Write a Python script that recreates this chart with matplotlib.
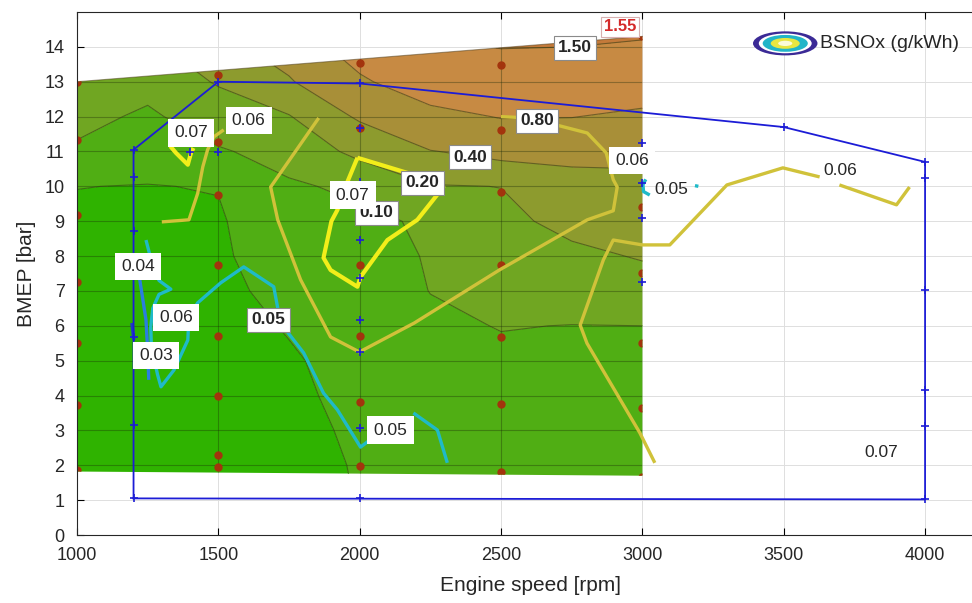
import numpy as np
import matplotlib
matplotlib.use("Agg")
import matplotlib.pyplot as plt
from matplotlib.patches import Polygon, Ellipse

plt.rcParams["font.family"] = ["Liberation Sans", "DejaVu Sans"]

# measured map (BSFC-like fill), columns = engine speed, rows = BMEP 1..15 bar
speed_grid = [1000, 1250, 1500, 1750, 2000, 2250, 2500, 2750, 3000]
bmep_grid = [1, 2, 3, 4, 5, 6, 7, 8, 9, 10, 11, 12, 13, 14, 15]
z_1000 = [0.035, 0.035, 0.036, 0.037, 0.038, 0.039, 0.040, 0.042, 0.045, 0.0505, 0.089, 0.122, 0.160, 0.190, 0.200]
z_1250 = [0.034, 0.034, 0.035, 0.036, 0.037, 0.038, 0.040, 0.042, 0.045, 0.049, 0.065, 0.088, 0.125, 0.170, 0.200]
z_1500 = [0.036, 0.036, 0.037, 0.038, 0.039, 0.040, 0.042, 0.045, 0.046, 0.0515, 0.093, 0.140, 0.210, 0.300, 0.380]
z_1750 = [0.040, 0.041, 0.043, 0.045, 0.047, 0.052, 0.060, 0.068, 0.078, 0.092, 0.125, 0.190, 0.370, 0.550, 0.700]
z_2000 = [0.051, 0.052, 0.054, 0.057, 0.060, 0.064, 0.070, 0.078, 0.088, 0.112, 0.230, 0.430, 0.740, 1.000, 1.200]
z_2250 = [0.062, 0.064, 0.068, 0.073, 0.080, 0.090, 0.101, 0.104, 0.108, 0.190, 0.390, 0.680, 1.050, 1.400, 1.550]
z_2500 = [0.070, 0.072, 0.076, 0.082, 0.090, 0.102, 0.125, 0.150, 0.165, 0.202, 0.470, 0.820, 1.150, 1.520, 1.600]
z_2750 = [0.072, 0.074, 0.078, 0.084, 0.091, 0.099, 0.130, 0.170, 0.240, 0.300, 0.480, 0.810, 1.100, 1.500, 1.600]
z_3000 = [0.072, 0.074, 0.078, 0.083, 0.090, 0.100, 0.140, 0.210, 0.270, 0.340, 0.460, 0.720, 1.050, 1.450, 1.700]

fill_levels = [0, 0.05, 0.10, 0.20, 0.40, 0.80, 1.50, 2.0]
fill_colors = ["#2fb300", "#50ae14", "#70a622", "#8d9b2e", "#a88f38", "#c78a43", "#c47a3a"]

# outline of the measured area
map_edge_x = [1000, 3000, 3000, 1000]
map_edge_y = [1.82, 1.70, 14.30, 13.00]

# full load curve
fl_speed = [1200, 1200, 1500, 2000, 3500, 4000, 4000, 1200]
fl_bmep = [1.05, 11.05, 13.0, 12.95, 11.7, 10.7, 1.02, 1.05]

# operating points (+)
op_speed = [1200] * 7 + [1400, 1500, 1500] + [2000] * 10 + [3000] * 4 + [3500] + [4000] * 6
op_bmep = [11.05, 10.27, 8.72, 7.69, 5.68, 3.16, 1.05,
           10.99, 13.0, 10.99,
           12.95, 11.68, 10.13, 9.52, 8.46, 7.37, 6.17, 5.25, 3.07, 1.05,
           11.25, 10.1, 9.09, 7.26,
           11.7,
           10.7, 10.24, 7.03, 4.16, 3.13, 1.02]

# measurement points (red dots)
meas_speed = [1000] * 7 + [1500] * 8 + [2000] * 6 + [2500] * 7 + [3000] * 6
meas_bmep = [13.0, 11.33, 9.18, 7.26, 5.5, 3.73, 1.86,
             13.2, 11.27, 9.75, 7.75, 5.71, 3.99, 2.3, 1.95,
             13.54, 11.68, 7.75, 5.71, 3.82, 1.98,
             13.48, 11.62, 9.84, 7.75, 5.68, 3.76, 1.81,
             14.3, 9.41, 7.52, 5.51, 3.64, 1.66]

# BSNOx iso-lines (g/kWh)
nox07_hook_x = [1330, 1350, 1392, 1403, 1412]
nox07_hook_y = [11.15, 10.96, 10.62, 10.95, 11.1]
nox07_loop_x = [1992, 2285, 2296, 2204, 2098, 2003, 1992, 1897, 1872, 1900, 1921, 1950, 1992]
nox07_loop_y = [10.82, 10.1, 9.98, 9.04, 8.46, 7.4, 7.12, 7.6, 7.95, 9.0, 9.32, 10.0, 10.82]
nox06_left_x = [1300, 1396, 1427, 1445, 1462, 1484, 1519]
nox06_left_y = [8.98, 9.04, 9.8, 10.56, 11.05, 11.42, 11.62]
nox06_mid_x = [1855, 1685, 1710, 1791, 1897, 1999, 2193, 2494, 2805, 2897, 2911, 2897, 2872, 2805, 2600, 2500]
nox06_mid_y = [11.96, 9.98, 9.04, 7.32, 5.68, 5.25, 6.08, 7.6, 9.04, 9.3, 9.98, 10.19, 10.96, 11.53, 11.96, 12.0]
nox06_right_x = [3945, 3899, 3697]
nox06_right_y = [9.98, 9.47, 10.04]
nox06_far_x = [3627, 3497, 3299, 3097, 3000, 2897, 2862, 2780, 2804, 2991, 3044]
nox06_far_y = [10.27, 10.53, 10.04, 8.32, 8.32, 8.46, 7.89, 6.02, 5.5, 2.93, 2.07]
nox05_x = [1244, 1262, 1290, 1332, 1290, 1268, 1261, 1263, 1285, 1297, 1343, 1392, 1396, 1427,
           1508, 1590, 1696, 1720, 1802, 1872, 1921, 2003, 2040]
nox05_y = [8.46, 7.9, 7.3, 7.05, 6.9, 6.5, 5.97, 5.4, 4.6, 4.25, 4.73, 5.59, 6.25, 6.66,
           7.23, 7.69, 7.12, 6.08, 5.22, 4.07, 3.59, 2.52, 2.75]
nox05_tail_x = [2190, 2275, 2310]
nox05_tail_y = [3.5, 3.01, 2.07]
nox05_hook_x = [3012, 3002, 3004, 3026]
nox05_hook_y = [10.2, 10.05, 9.85, 9.75]
nox05_dot_x = [3186, 3198]
nox05_dot_y = [10.02, 10.0]
nox04_x = [1222, 1232, 1244, 1250, 1254]
nox04_y = [7.32, 6.8, 6.17, 5.3, 4.45]
nox03_x = [1194, 1201]
nox03_y = [6.08, 5.6]

nox_colors = {0.03: "#1f3fc4", 0.04: "#2a7ee0", 0.05: "#1fbac8", 0.06: "#d0c23a", 0.07: "#f2ee1a"}

# contour labels
fill_label_text = ["0.05", "0.10", "0.20", "0.40", "0.80", "1.50"]
fill_label_x = [1678, 2060, 2222, 2391, 2628, 2762]
fill_label_y = [6.17, 9.24, 10.1, 10.84, 11.88, 13.97]
nox_label_text = ["0.07", "0.06", "0.07", "0.06", "0.04", "0.06", "0.03", "0.05"]
nox_label_x = [1403, 1607, 1975, 2963, 1215, 1350, 1279, 2109]
nox_label_y = [11.53, 11.88, 9.75, 10.73, 7.69, 6.23, 5.16, 3.01]
plain_label_text = ["0.05", "0.06", "0.07"]
plain_label_x = [3104, 3701, 3846]
plain_label_y = [9.9, 10.44, 2.38]

fig = plt.figure(figsize=(9.72, 6.03), dpi=100)
ax = fig.add_axes([77 / 972, 68 / 603, 908 / 972, 523 / 603])
ax.set_xlim(1000, 4212)
ax.set_ylim(0, 15)
ax.set_axisbelow(True)
ax.grid(True, color="#dedede", lw=0.7)

clip = Polygon(np.column_stack([map_edge_x, map_edge_y]), closed=True,
               fc="none", ec="none", transform=ax.transData)
ax.add_patch(clip)

Z = np.array([z_1000, z_1250, z_1500, z_1750, z_2000, z_2250, z_2500, z_2750, z_3000]).T
X, Y = np.meshgrid(speed_grid, bmep_grid)
cf = ax.contourf(X, Y, Z, levels=fill_levels, colors=fill_colors, zorder=1)
cf.set_clip_path(clip)
cl = ax.contour(X, Y, Z, levels=fill_levels[1:-1], colors="#2b3a12",
                linewidths=0.8, alpha=0.55, zorder=2)
cl.set_clip_path(clip)
# faint edge along the top of the map
ax.plot(map_edge_x[2:], map_edge_y[2:], color="#4a3a1a", lw=0.8, alpha=0.5, zorder=2)

# darker grid inside the coloured map
for xt in [1500, 2000, 2500]:
    ax.axvline(xt, color="#1a2a08", lw=0.8, alpha=0.35, zorder=1.5, clip_path=clip)
for yt in range(2, 15):
    ax.axhline(yt, color="#1a2a08", lw=0.8, alpha=0.35, zorder=1.5, clip_path=clip)

# measurement points
dots, = ax.plot(meas_speed, meas_bmep, "o", color="#a3340d", ms=5, zorder=2.5)
dots.set_clip_path(clip)

# NOx lines
nox_lines = [
    (0.07, nox07_hook_x, nox07_hook_y), (0.07, nox07_loop_x, nox07_loop_y),
    (0.06, nox06_left_x, nox06_left_y), (0.06, nox06_mid_x, nox06_mid_y),
    (0.06, nox06_right_x, nox06_right_y), (0.06, nox06_far_x, nox06_far_y),
    (0.05, nox05_x, nox05_y), (0.05, nox05_tail_x, nox05_tail_y),
    (0.05, nox05_hook_x, nox05_hook_y), (0.05, nox05_dot_x, nox05_dot_y),
    (0.04, nox04_x, nox04_y), (0.03, nox03_x, nox03_y),
]
for lev, xs, ys in nox_lines:
    lw = 3.0 if lev == 0.07 else 2.4
    ax.plot(xs, ys, color=nox_colors[lev], lw=lw, solid_capstyle="butt", zorder=3)

# full load curve and operating points
ax.plot(fl_speed, fl_bmep, color="#1c1cd6", lw=1.3, zorder=4)
ax.plot(op_speed, op_bmep, "+", color="#1c1cd6", ms=6, mew=1.2, zorder=4)

# labels
for t, x, y in zip(fill_label_text, fill_label_x, fill_label_y):
    ax.text(x, y, t, fontsize=12.5, fontweight="bold", color="#262626", ha="center", va="center",
            bbox=dict(boxstyle="square,pad=0.25", fc="white", ec="#8a8a8a", lw=0.8), zorder=6)
ax.text(2921, 14.57, "1.55", fontsize=12, fontweight="bold", color="#d42a2a", ha="center", va="center",
        bbox=dict(boxstyle="square,pad=0.15", fc="white", ec="#d8b0b0", lw=0.8), zorder=6)
for t, x, y in zip(nox_label_text, nox_label_x, nox_label_y):
    ax.text(x, y, t, fontsize=12.5, color="#262626", ha="center", va="center",
            bbox=dict(boxstyle="square,pad=0.35", fc="white", ec="none"), zorder=6)
for t, x, y in zip(plain_label_text, plain_label_x, plain_label_y):
    ax.text(x, y, t, fontsize=12.5, color="#262626", ha="center", va="center", zorder=6)

# legend icon
cx, cy = 0.780, 0.940
for scale, col in [(1.0, "#3b2a96"), (0.82, "white"), (0.7, "#22b5c8"), (0.45, "#e8e640"), (0.22, "#fbfbd8")]:
    ax.add_patch(Ellipse((cx, cy), 0.071 * scale, 0.046 * scale, fc=col, ec="none",
                         transform=ax.transAxes, zorder=7))
ax.text(0.818, cy, "BSNOx (g/kWh)", transform=ax.transAxes, fontsize=14, color="#262626",
        va="center", ha="left", zorder=7)

ax.set_xticks([1000, 1500, 2000, 2500, 3000, 3500, 4000])
ax.set_yticks(range(0, 15))
ax.tick_params(direction="in", top=True, right=True, length=5, labelsize=13,
               labelcolor="#262626", width=0.8)
ax.tick_params(axis="x", pad=9)
ax.tick_params(axis="y", pad=9)
for s in ax.spines.values():
    s.set_color("#262626")
    s.set_linewidth(0.8)
ax.set_xlabel("Engine speed [rpm]", fontsize=15, color="#262626", labelpad=8)
ax.set_ylabel("BMEP [bar]", fontsize=15, color="#262626", labelpad=6)

fig.savefig("out.png", dpi=100)
